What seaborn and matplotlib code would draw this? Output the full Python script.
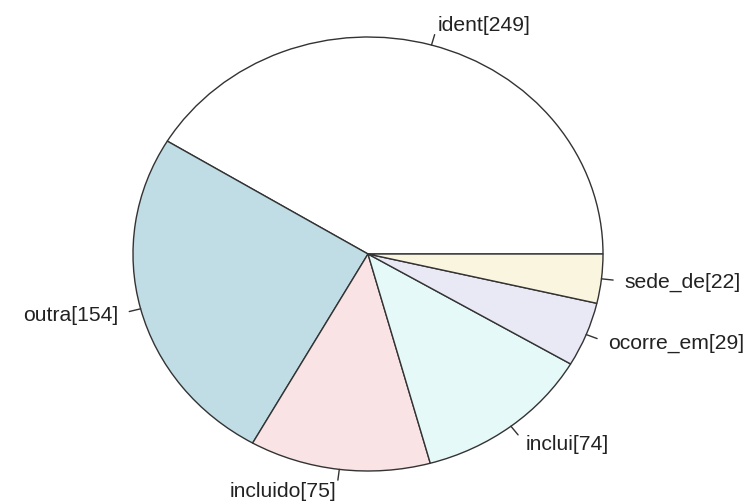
import numpy as np
import matplotlib
matplotlib.use('Agg')
from matplotlib import pyplot as plt
import seaborn as sns

# slice data (counter-clockwise from 3 o'clock, like R's pie)
categories = ['ident', 'outra', 'incluido', 'inclui', 'ocorre_em', 'sede_de']
counts = [249, 154, 75, 74, 29, 22]
# R's default pie palette, a little washed out as in the reference
slice_colors = ['#ffffff', '#c0dce5', '#f9e3e4', '#e6f9f9', '#e9e8f5', '#faf5df']
labels = ['%s[%d]' % (c, n) for c, n in zip(categories, counts)]

sns.set_style('white')
plt.rcParams['font.family'] = ['Liberation Sans', 'DejaVu Sans']

fig = plt.figure(figsize=(7.51, 5.02), dpi=100)
ax = fig.add_axes([0, 0, 1, 1])

wedges, _ = ax.pie(counts, colors=slice_colors, startangle=0, counterclock=True,
                   wedgeprops=dict(edgecolor='#333333', linewidth=1.0))

# R style labels: short tick from r=1 to 1.05, text at 1.1
for w, lab in zip(wedges, labels):
    mid = np.deg2rad((w.theta1 + w.theta2) / 2)
    c, s = np.cos(mid), np.sin(mid)
    ax.plot([c, 1.05 * c], [s, 1.05 * s], color='#333333', lw=1.0)
    ax.text(1.1 * c, 1.1 * s, lab, ha='left' if c >= 0 else 'right', va='center',
            fontsize=15.2, color='#222222')

# the reference pie is a bit wider than tall
ax.set_aspect('auto')
ax.set_xlim(-368 / 235, (751 - 368) / 235)
ax.set_ylim(-(502 - 255) / 217, 255 / 217)
ax.axis('off')

fig.savefig('out.png', dpi=100)
